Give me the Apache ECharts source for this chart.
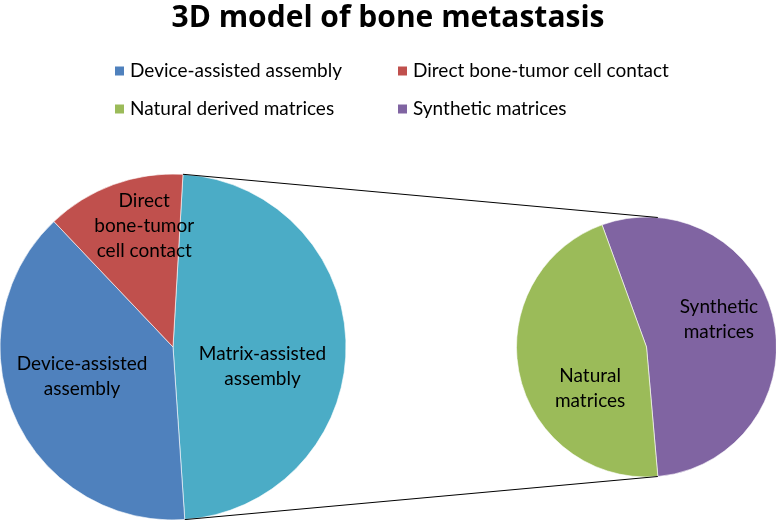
<!DOCTYPE html>
<html>
<head>
<meta charset="utf-8">
<script src="https://cdn.jsdelivr.net/npm/echarts@6/dist/echarts.min.js"></script>
<style>html,body{margin:0;padding:0;background:#fff}#c{width:776px;height:520px}</style>
</head>
<body>
<div id="c"></div>
<script>
// Main pie
const mainCategories = ['Device-assisted assembly', 'Direct bone-tumor cell contact', 'Matrix-assisted assembly'];
const mainValues = [39, 13, 48];
const mainLabels = ['Device-assisted\nassembly', 'Direct\nbone-tumor\ncell contact', 'Matrix-assisted\nassembly'];
// Secondary pie (split of Matrix-assisted assembly)
const subCategories = ['Natural derived matrices', 'Synthetic matrices'];
const subValues = [22, 26];
const subLabels = ['Natural\nmatrices', 'Synthetic\nmatrices'];

const colors = {
  'Device-assisted assembly': '#4F81BD',
  'Direct bone-tumor cell contact': '#C0504D',
  'Matrix-assisted assembly': '#4BACC6',
  'Natural derived matrices': '#9BBB59',
  'Synthetic matrices': '#8064A2'
};

const FONT = 'Lato';
const mainCenter = [173, 347], mainR = 173;
const subCenter = [646.5, 347], subR = 130;
const mainStart = 86.7;   // degrees, ECharts convention
const subStart = 110;

// main order clockwise: Matrix, Device, Direct
const mainOrder = [2, 0, 1];
const mainData = mainOrder.map(i => ({
  name: mainCategories[i], value: mainValues[i],
  itemStyle: { color: colors[mainCategories[i]] },
  label: { formatter: mainLabels[i] }
}));
// sub order clockwise: Synthetic, Natural
const subOrder = [1, 0];
const subData = subOrder.map(i => ({
  name: subCategories[i], value: subValues[i],
  itemStyle: { color: colors[subCategories[i]] },
  label: { formatter: subLabels[i] }
}));

const mainOffsets = [[0, 20], [-9, -7], [2, -37]];
const subOffsets = [[6, -13], [10, 27]];

// connector lines computed from slice geometry
const mainTotal = mainValues.reduce((a, b) => a + b, 0);
const matrixSweep = mainValues[2] / mainTotal * 360;
function pt(c, r, ecAngleDeg) {
  const a = ecAngleDeg * Math.PI / 180;
  return [c[0] + r * Math.cos(a), c[1] - r * Math.sin(a)];
}
const mTop = pt(mainCenter, mainR, mainStart);
const mBot = pt(mainCenter, mainR, mainStart - matrixSweep);
const sTop = pt(subCenter, subR, 85);
const sBot = pt(subCenter, subR, -85);

const labelStyle = { fontFamily: FONT, fontSize: 19, color: '#000', lineHeight: 25 };
const legendText = { fontFamily: FONT, fontSize: 19, color: '#000', lineHeight: 22 };

const chart = echarts.init(document.getElementById('c'));
chart.setOption({
  animation: false,
  backgroundColor: '#fff',
  title: {
    text: '3D model of bone metastasis', left: 'center', top: -2,
    textStyle: { fontFamily: 'Open Sans', fontSize: 30, fontWeight: 'bold', color: '#000' }
  },
  legend: [
    {
      orient: 'vertical', left: 113, top: 60, padding: 0, itemWidth: 11, itemHeight: 11, itemGap: 16,
      selectedMode: false, icon: 'rect',
      data: ['Device-assisted assembly', 'Natural derived matrices'],
      textStyle: legendText
    },
    {
      orient: 'vertical', left: 396, top: 60, padding: 0, itemWidth: 11, itemHeight: 11, itemGap: 16,
      selectedMode: false, icon: 'rect',
      data: ['Direct bone-tumor cell contact', 'Synthetic matrices'],
      textStyle: legendText
    }
  ],
  series: [
    {
      type: 'pie', center: mainCenter, radius: mainR, startAngle: mainStart,
      clockwise: true, silent: true,
      itemStyle: { borderColor: '#fff', borderWidth: 0.6 },
      label: Object.assign({ show: true, position: 'inside', align: 'center' }, labelStyle),
      labelLine: { show: false },
      labelLayout: p => ({ dx: mainOffsets[p.dataIndex][0], dy: mainOffsets[p.dataIndex][1] }),
      data: mainData
    },
    {
      type: 'pie', center: subCenter, radius: subR, startAngle: subStart,
      clockwise: true, silent: true,
      itemStyle: { borderColor: '#fff', borderWidth: 0.6 },
      label: Object.assign({ show: true, position: 'inside', align: 'center' }, labelStyle),
      labelLine: { show: false },
      labelLayout: p => ({ dx: subOffsets[p.dataIndex][0], dy: subOffsets[p.dataIndex][1] }),
      data: subData
    }
  ],
  graphic: [
    { type: 'line', z: 100, shape: { x1: mTop[0], y1: mTop[1], x2: sTop[0], y2: sTop[1] }, style: { stroke: '#000', lineWidth: 1 } },
    { type: 'line', z: 100, shape: { x1: mBot[0], y1: mBot[1], x2: sBot[0], y2: sBot[1] }, style: { stroke: '#000', lineWidth: 1 } }
  ]
});
</script>
</body>
</html>
